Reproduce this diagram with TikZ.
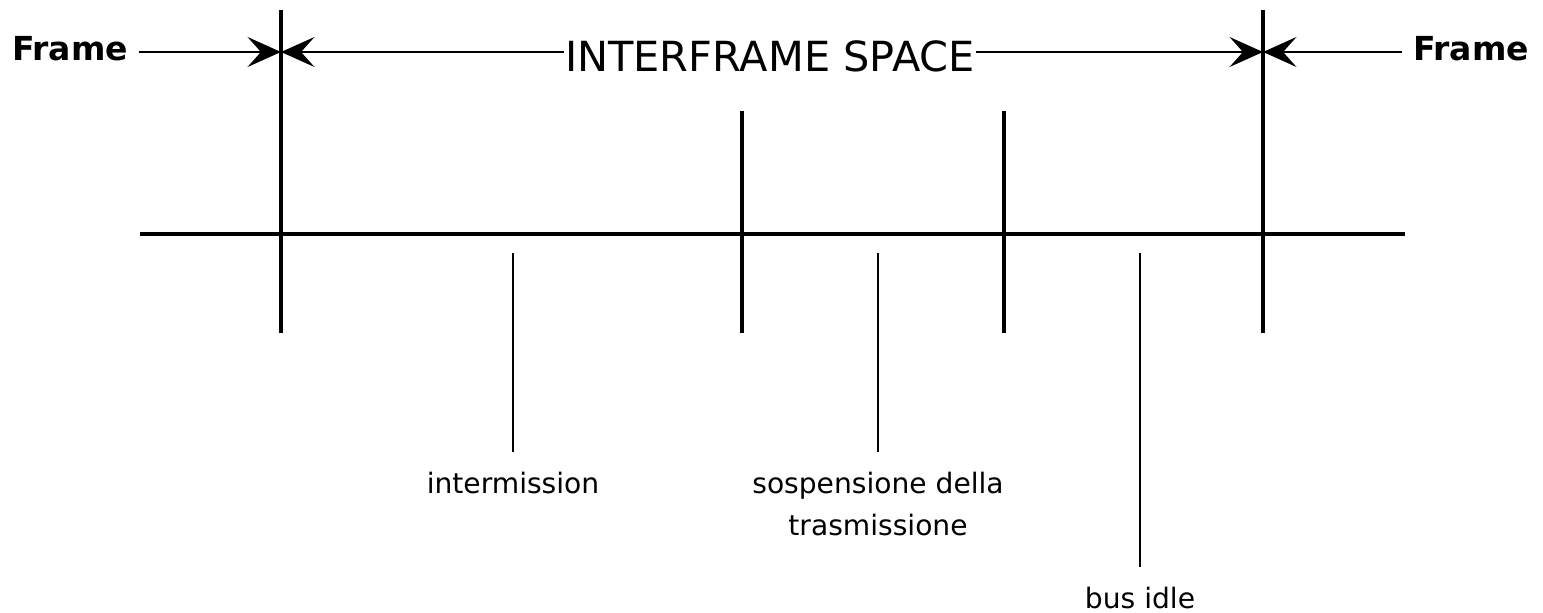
\documentclass[tikz,border=0pt]{standalone}
\usepackage{fontspec}
\setmainfont{DejaVu Sans}
\usetikzlibrary{arrows.meta}

\begin{document}
\begin{tikzpicture}[x=0.01cm,y=-0.01cm,
  bus/.style={line width=0.9pt},
  lead/.style={line width=0.35pt},
  dim/.style={line width=0.65pt,-{Stealth[length=9.5pt,width=8.5pt,inset=3.8pt]}},
  lbl/.style={font=\fontsize{8}{12}\selectfont,anchor=north,inner sep=5.5pt,align=center}]
\pgfmathsetmacro{\ytop}{52}
\pgfmathsetmacro{\ybus}{234}
\useasboundingbox (0,0) rectangle (1543,613);
%bus line and ticks
\draw[bus] (140,\ybus)--(1405,\ybus);
\foreach \x in {281,1263} \draw[bus] (\x,10)--(\x,333);
\foreach \x in {742,1004} \draw[bus] (\x,111)--(\x,333);
\coordinate (ta) at (281,\ytop);
\coordinate (tb) at (1263,\ytop);
%arrows on top
\node[font=\fontsize{9.4}{11}\selectfont\bfseries,inner sep=0pt] (fa) at (70,49) {Frame};
\node[font=\fontsize{9.4}{11}\selectfont\bfseries,inner sep=0pt] (fb) at (1471,49) {Frame};
\node[font=\fontsize{11.8}{14}\selectfont,inner sep=0pt,anchor=base] (is) at (770,72) {INTERFRAME SPACE};
\draw[dim] ([xshift=0.1cm]fa.east|-ta)--(ta);
\draw[dim] (is.west|-ta)--(ta);
\draw[dim] (is.east|-tb)--(tb);
\draw[dim] ([xshift=-0.1cm]fb.west|-tb)--(tb);
%labels below
\coordinate (ca) at (513,253);
\coordinate (cb) at (878,253);
\coordinate (cc) at (1140,253);
\node[lbl] (im) at (513,452) {intermission};
\node[lbl] (st) at (878,452) {sospensione della\\trasmissione};
\node[lbl] (bi) at (1140,567) {bus idle};
\draw[lead] (ca)--(im.north);
\draw[lead] (cb)--(st.north);
\draw[lead] (cc)--(bi.north);
\end{tikzpicture}
\end{document}
